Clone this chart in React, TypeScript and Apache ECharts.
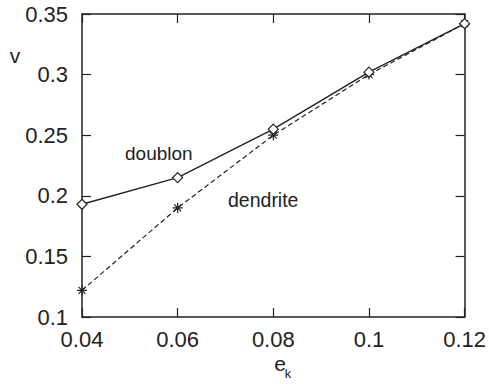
import React, { useEffect, useRef } from "react";
import * as echarts from "echarts";

const xValues = [0.04, 0.06, 0.08, 0.1, 0.12];
const doublon = [0.193, 0.215, 0.255, 0.302, 0.342];
const dendrite = [0.122, 0.19, 0.25, 0.3, 0.342];
const xTicks = ["0.04", "0.06", "0.08", "0.1", "0.12"];

const asterisk =
  "path://M5,0L5,10M0,5L10,5M1.5,1.5L8.5,8.5M8.5,1.5L1.5,8.5";

export default function App() {
  const ref = useRef<HTMLDivElement>(null);
  useEffect(() => {
    if (!ref.current) return;
    document.body.style.margin = "0";
    const chart = echarts.init(ref.current, null, { renderer: "svg" });
    const font = "Liberation Sans, Arial, sans-serif";
    const axisLine = { show: true, lineStyle: { color: "#222", width: 1.5 } };
    const tick = { show: true, inside: true, length: 9, lineStyle: { color: "#222", width: 1.2 } };
    chart.setOption({
      animation: false,
      backgroundColor: "#fff",
      grid: { left: 82, top: 14, right: 23, bottom: 67 },
      xAxis: [
        {
          type: "value",
          min: 0.04,
          max: 0.12,
          interval: 0.02,
          axisLine,
          axisTick: tick,
          splitLine: { show: false },
          axisLabel: {
            color: "#222",
            fontSize: 22,
            fontFamily: font,
            margin: 11,
            formatter: (v: number) => xTicks[Math.round((v - 0.04) / 0.02)] ?? "",
          },
        },
        {
          type: "value",
          position: "top",
          min: 0.04,
          max: 0.12,
          interval: 0.02,
          axisLine,
          axisTick: tick,
          axisLabel: { show: false },
          splitLine: { show: false },
        },
      ],
      yAxis: [
        {
          type: "value",
          min: 0.1,
          max: 0.35,
          interval: 0.05,
          axisLine,
          axisTick: tick,
          splitLine: { show: false },
          axisLabel: {
            color: "#222",
            fontSize: 22,
            fontFamily: font,
            margin: 14,
            formatter: (v: number) => String(Math.round(v * 100) / 100),
          },
        },
        {
          type: "value",
          position: "right",
          min: 0.1,
          max: 0.35,
          interval: 0.05,
          axisLine,
          axisTick: tick,
          axisLabel: { show: false },
          splitLine: { show: false },
        },
      ],
      graphic: [
        { type: "text", x: 15, y: 55, style: { text: "v", fontSize: 21, fontFamily: font, fill: "#222", textAlign: "center", textVerticalAlign: "middle" } },
        { type: "text", x: 280, y: 363, style: { text: "e", fontSize: 21, fontFamily: font, fill: "#222", textAlign: "center", textVerticalAlign: "middle" } },
        { type: "text", x: 288, y: 373, style: { text: "k", fontSize: 13, fontFamily: font, fill: "#222", textAlign: "center", textVerticalAlign: "middle" } },
        { type: "text", left: 125, top: 144, style: { text: "doublon", fontSize: 19, fontFamily: font, fill: "#222" } },
        { type: "text", left: 228, top: 190, style: { text: "dendrite", fontSize: 19.5, fontFamily: font, fill: "#222" } },
      ],
      series: [
        {
          type: "line",
          data: xValues.map((x, i) => [x, dendrite[i]]),
          symbol: asterisk,
          symbolSize: 10,
          lineStyle: { color: "#222", width: 1.2, type: [5, 3] },
          itemStyle: { color: "transparent", borderColor: "#222", borderWidth: 1.2 },
          z: 2,
        },
        {
          type: "line",
          data: xValues.map((x, i) => [x, doublon[i]]),
          symbol: "diamond",
          symbolSize: 10,
          showAllSymbol: true,
          lineStyle: { color: "#222", width: 1.4 },
          itemStyle: { color: "#fff", borderColor: "#222", borderWidth: 1.2 },
          z: 3,
        },
      ],
    });
    return () => chart.dispose();
  }, []);
  return <div ref={ref} style={{ width: 489, height: 384 }} />;
}
